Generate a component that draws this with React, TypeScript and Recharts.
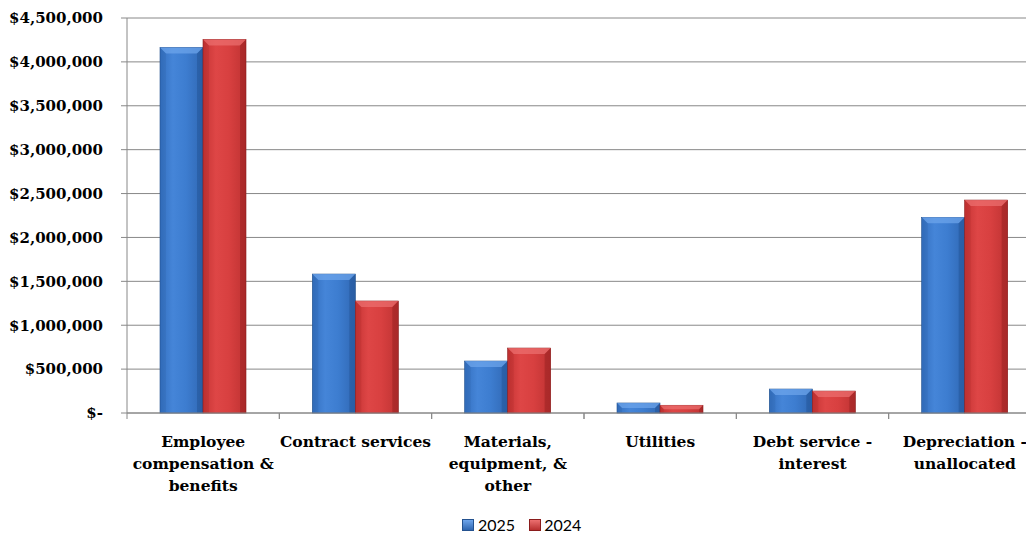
import { BarChart, Bar, XAxis, YAxis, CartesianGrid, Legend } from 'recharts';

const categories = [
  'Employee\ncompensation &\nbenefits',
  'Contract services',
  'Materials,\nequipment, &\nother',
  'Utilities',
  'Debt service -\ninterest',
  'Depreciation -\nunallocated',
];
const values2025 = [4165000, 1583000, 592000, 114000, 273000, 2229000];
const values2024 = [4256000, 1276000, 740000, 88000, 250000, 2426000];
const yTicks = [0, 500000, 1000000, 1500000, 2000000, 2500000, 3000000, 3500000, 4000000, 4500000];

const data = categories.map((name, i) => ({ name, y2025: values2025[i], y2024: values2024[i] }));

const GRID = '#888888';
const SERIF = '"DejaVu Serif", serif';

const fmtMoney = (v: number) => (v === 0 ? '$-' : '$' + v.toLocaleString('en-US'));

// labels sit at band centres; the small tick marks go on the band edges
const CategoryTick = (props: any) => {
  const { x, y, payload } = props;
  const lines = String(payload.value).split('\n');
  const half = payload.offset || 0;
  return (
    <g>
      <line x1={x - half} x2={x - half} y1={y - 8} y2={y - 2} stroke={GRID} />
      <line x1={x + half} x2={x + half} y1={y - 8} y2={y - 2} stroke={GRID} />
      <text x={x} y={y} textAnchor="middle" fontFamily={SERIF} fontWeight="bold" fontSize={15.5} fill="#000">
        {lines.map((l, i) => (
          <tspan key={i} x={x} dy={i === 0 ? 26 : 22}>{l}</tspan>
        ))}
      </text>
    </g>
  );
};

const makeBar = (grad: string, light: string, dark: string) => (props: any) => {
  const { x, y, width, height } = props;
  if (!height || height <= 0) return <g />;
  const b = Math.min(6, height / 2, width / 4);
  return (
    <g>
      <rect x={x} y={y} width={width} height={height} fill={`url(#${grad})`} stroke={dark} strokeWidth={0.6} />
      <polygon points={`${x},${y} ${x + width},${y} ${x + width - b},${y + b} ${x + b},${y + b}`} fill={light} opacity={0.7} />
      <polygon points={`${x},${y} ${x + b},${y + b} ${x + b},${y + height} ${x},${y + height}`} fill={dark} opacity={0.15} />
      <polygon points={`${x + width},${y} ${x + width - b},${y + b} ${x + width - b},${y + height} ${x + width},${y + height}`} fill={dark} opacity={0.4} />
    </g>
  );
};

const BlueBar = makeBar('gBlue', '#6FA6EC', '#1F4E8C');
const RedBar = makeBar('gRed', '#EC7070', '#8A1C1C');

const LegendBox = () => (
  <div style={{ display: 'flex', alignItems: 'center', fontFamily: 'Lato, "Open Sans", sans-serif', fontSize: 16, color: '#000' }}>
    <span style={{ width: 10, height: 10, background: 'linear-gradient(#6FA6EC, #2F66B0)', border: '1px solid #24528F', marginRight: 4 }} />
    <span style={{ marginRight: 14 }}>2025</span>
    <span style={{ width: 10, height: 10, background: 'linear-gradient(#EC7070, #B83030)', border: '1px solid #8A1C1C', marginRight: 3 }} />
    <span>2024</span>
  </div>
);

export default function App() {
  return (
    <div style={{ position: 'fixed', left: 0, top: 0, width: 1026, height: 536, overflow: 'hidden', background: '#fff' }}>
      <BarChart
        width={1050}
        height={536}
        data={data}
        margin={{ top: 18, right: 9, left: 0, bottom: 0 }}
        barSize={43}
        barGap={0}
      >
        <defs>
          <linearGradient id="gBlue" x1="0" y1="0" x2="1" y2="0">
            <stop offset="0%" stopColor="#3470C0" />
            <stop offset="30%" stopColor="#4585D8" />
            <stop offset="60%" stopColor="#3D7DD0" />
            <stop offset="100%" stopColor="#3068B4" />
          </linearGradient>
          <linearGradient id="gRed" x1="0" y1="0" x2="1" y2="0">
            <stop offset="0%" stopColor="#C63434" />
            <stop offset="30%" stopColor="#DE4646" />
            <stop offset="60%" stopColor="#D84040" />
            <stop offset="100%" stopColor="#BE3232" />
          </linearGradient>
        </defs>
        <CartesianGrid vertical={false} stroke={GRID} strokeWidth={1} />
        <XAxis
          dataKey="name"
          interval={0}
          tickLine={false}
          axisLine={{ stroke: GRID }}
          height={93}
          tick={<CategoryTick />}
        />
        <YAxis
          width={127}
          domain={[0, 4500000]}
          ticks={yTicks}
          tickFormatter={fmtMoney}
          tickSize={6}
          tickMargin={18}
          stroke={GRID}
          tick={{ fontFamily: SERIF, fontWeight: 'bold', fontSize: 15, fill: '#000' }}
        />
        <Legend
          verticalAlign="bottom"
          content={<LegendBox />}
          wrapperStyle={{ left: 462, width: 'auto', height: 30, boxSizing: 'border-box', bottom: 0, paddingTop: 9 }}
        />
        <Bar dataKey="y2025" name="2025" fill="#3D7DD0" shape={BlueBar} isAnimationActive={false} />
        <Bar dataKey="y2024" name="2024" fill="#D84040" shape={RedBar} isAnimationActive={false} />
      </BarChart>
    </div>
  );
}
